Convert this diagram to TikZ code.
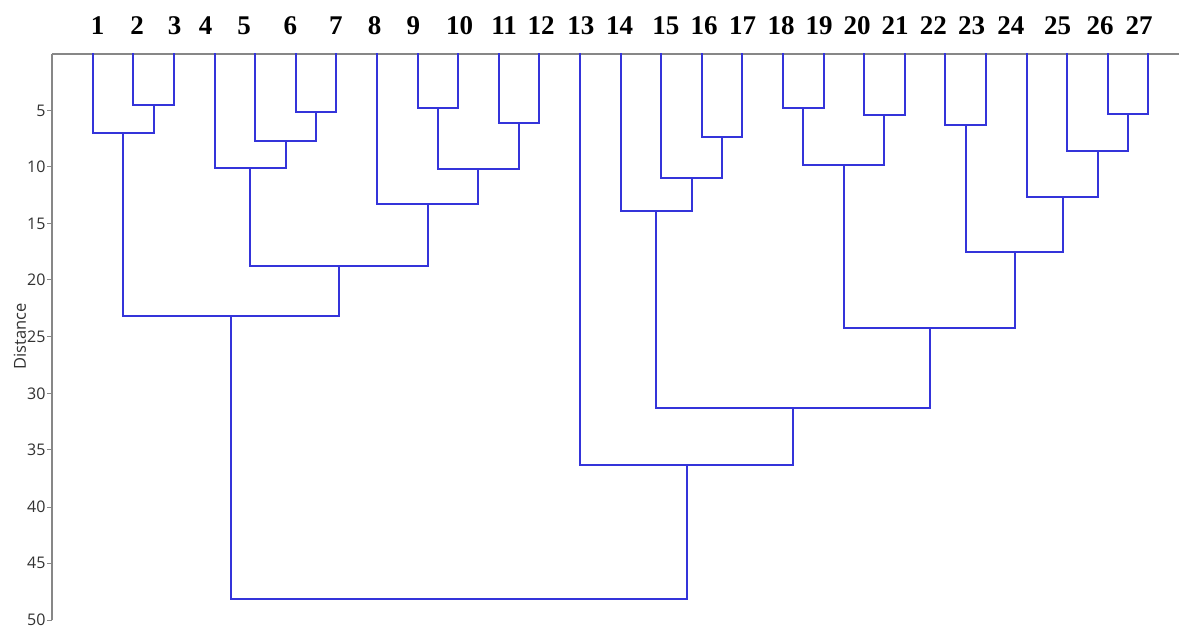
\documentclass[tikz,border=0pt]{standalone}
\usepackage{fontspec}
\setmainfont{Liberation Serif}
\newfontfamily\axisfont{Open Sans}
\definecolor{linkblue}{RGB}{52,52,218}
\definecolor{axisgray}{RGB}{135,135,135}
\definecolor{ticktext}{RGB}{50,50,50}
\tikzset{
  link/.style={draw=linkblue, line width=2pt, line cap=rect},
  axisline/.style={draw=axisgray, line width=1.5pt},
  tickmark/.style={draw=axisgray, line width=1pt},
  leaflabel/.style={anchor=base, inner sep=0pt, font=\fontsize{27}{27}\selectfont\bfseries},
  ticklabel/.style={anchor=east, inner sep=0pt, text=ticktext, font=\axisfont\fontsize{16}{16}\selectfont},
}
% \mergeat{name}{left child}{right child}{x}{y}
\newcommand{\mergeat}[5]{%
  \coordinate (#1) at (#4,#5);
  \draw[link] (#2) |- (#1) -| (#3);
}
\begin{document}
\begin{tikzpicture}[x=1pt,y=-1pt]
\useasboundingbox (0,0) rectangle (1179,628);
\fill[white] (0,0) rectangle (1179,628);
% axes
\coordinate (ax0) at (52,54);
\coordinate (axR) at (1179,54);
\coordinate (axB) at (52,620);
\draw[axisline] (ax0) -- (axR);
\draw[axisline] (ax0) -- (axB);
\foreach \v in {5,10,...,50} {
  \coordinate (tk\v) at (52,{round(54+11.32*\v)});
  \draw[tickmark] (tk\v) -- ++(-5,0) node[ticklabel, xshift=-1pt] (tl\v) {\v};
}
\node[rotate=90, inner sep=0pt, text=ticktext, font=\axisfont\fontsize{16.5}{16.5}\selectfont] (ylab) at (20,336.5) {Distance};
% leaves
\foreach \i/\x in {1/93,2/133,3/174,4/215,5/255,6/296,7/336,8/377,9/418,10/458,11/499,12/539,13/580,14/621,15/661,16/702,17/742,18/783,19/824,20/864,21/905,22/945,23/986,24/1027,25/1067,26/1108,27/1148} {
  \coordinate (l\i) at (\x,54);
}
% leaf labels
\foreach \i/\x in {1/97.5,2/137,3/174.5,4/205.7,5/244,6/290.3,7/335.8,8/374.7,9/413.3,10/459.5,11/504.2,12/541.2,13/580.8,14/619.5,15/665.8,16/704.2,17/742.5,18/781,19/819.2,20/857,21/895,22/933.3,23/971.7,24/1010.8,25/1057.5,26/1100,27/1139} {
  \node[leaflabel] (lab\i) at (\x,35) {\i};
}
% merges
\mergeat{m23}{l2}{l3}{154}{105}
\mergeat{m123}{l1}{m23}{123}{133}
\mergeat{m67}{l6}{l7}{316}{112}
\mergeat{m567}{l5}{m67}{286}{141}
\mergeat{m47}{l4}{m567}{250}{168}
\mergeat{m910}{l9}{l10}{438}{108}
\mergeat{m1112}{l11}{l12}{519}{123}
\mergeat{m912}{m910}{m1112}{478}{169}
\mergeat{m812}{l8}{m912}{428}{204}
\mergeat{m412}{m47}{m812}{339}{266}
\mergeat{m112}{m123}{m412}{231}{316}
\mergeat{m1617}{l16}{l17}{722}{137}
\mergeat{m1517}{l15}{m1617}{692}{178}
\mergeat{m1417}{l14}{m1517}{656}{211}
\mergeat{m1819}{l18}{l19}{803}{108}
\mergeat{m2021}{l20}{l21}{884}{115}
\mergeat{m1821}{m1819}{m2021}{844}{165}
\mergeat{m2223}{l22}{l23}{966}{125}
\mergeat{m2627}{l26}{l27}{1128}{114}
\mergeat{m2527}{l25}{m2627}{1098}{151}
\mergeat{m2427}{l24}{m2527}{1063}{197}
\mergeat{m2227}{m2223}{m2427}{1015}{252}
\mergeat{m1827}{m1821}{m2227}{930}{328}
\mergeat{m1427}{m1417}{m1827}{793}{408}
\mergeat{m1327}{l13}{m1427}{687}{465}
\mergeat{root}{m112}{m1327}{459}{599}
\end{tikzpicture}
\end{document}
